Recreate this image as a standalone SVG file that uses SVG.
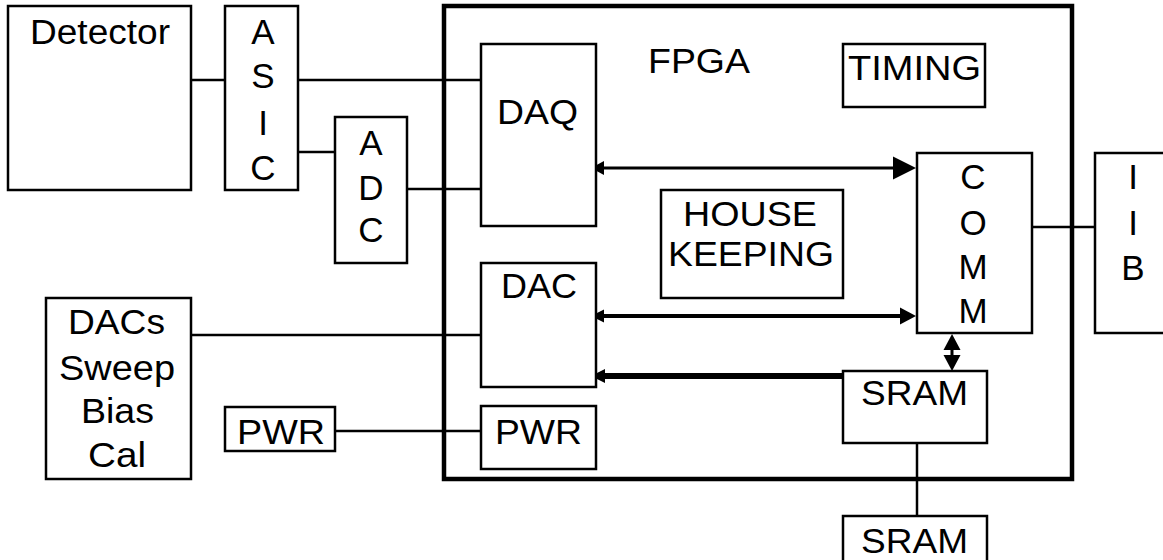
<svg xmlns="http://www.w3.org/2000/svg" width="1163" height="560" viewBox="0 0 1163 560">
<style>
.box{fill:#fff;stroke:#000;stroke-width:2.5}
.frame{fill:none;stroke:#000;stroke-width:4.5}
.ln{stroke:#000;stroke-width:2.5;fill:none}
.head{fill:#000;stroke:none}
text{font-family:"Liberation Sans",Arial,sans-serif;font-size:35px;fill:#000}
.c{text-anchor:middle}
</style>
<rect width="1163" height="560" fill="#fff"/>
<g id="connectors">
<line class="ln" x1="191" y1="80" x2="225" y2="80"/>
<line class="ln" x1="298" y1="80" x2="481" y2="80"/>
<line class="ln" x1="298" y1="152" x2="335" y2="152"/>
<line class="ln" x1="407" y1="189" x2="481" y2="189"/>
<line class="ln" x1="191" y1="335" x2="481" y2="335"/>
<line class="ln" x1="335" y1="431" x2="481" y2="431"/>
<line class="ln" x1="1027" y1="227" x2="1095" y2="227"/>
<line class="ln" x1="917" y1="443" x2="917" y2="516"/>
<!-- DAQ <-> COMM -->
<line x1="600" y1="168" x2="896" y2="168" stroke="#000" stroke-width="3"/>
<polygon class="head" points="591,168 604,161 604,175"/>
<polygon class="head" points="916,168 893,156.5 893,179.5"/>
<!-- DAC <-> COMM -->
<line x1="600" y1="316" x2="902" y2="316" stroke="#000" stroke-width="4"/>
<polygon class="head" points="591,316 604,309.5 604,322.5"/>
<polygon class="head" points="916,316 900,307.5 900,324.5"/>
<!-- SRAM -> DAC -->
<line x1="600" y1="376" x2="843" y2="376" stroke="#000" stroke-width="6"/>
<polygon class="head" points="591,376 605,369 605,383"/>
<!-- COMM <-> SRAM -->
<line x1="952" y1="346" x2="952" y2="359" stroke="#000" stroke-width="3"/>
<polygon class="head" points="952,334 943.5,350 960.5,350"/>
<polygon class="head" points="952,371 943.5,355 960.5,355"/>
</g>
<g id="fpga">
<rect class="frame" x="444" y="6" width="628" height="473"/>
<text x="648" y="73" textLength="102" lengthAdjust="spacingAndGlyphs">FPGA</text>
</g>
<g id="detector">
<rect class="box" x="8" y="6" width="183" height="184"/>
<text x="30" y="44" textLength="140" lengthAdjust="spacingAndGlyphs">Detector</text>
</g>
<g id="asic">
<rect class="box" x="225" y="6" width="73" height="184"/>
<text class="c" x="263" y="44">A</text>
<text class="c" x="263" y="88">S</text>
<text class="c" x="263" y="135">I</text>
<text class="c" x="263" y="180">C</text>
</g>
<g id="adc">
<rect class="box" x="335" y="117" width="72" height="146"/>
<text class="c" x="371" y="155">A</text>
<text class="c" x="371" y="200">D</text>
<text class="c" x="371" y="242">C</text>
</g>
<g id="daq">
<rect class="box" x="481" y="44" width="115" height="182"/>
<text x="497" y="124" textLength="81" lengthAdjust="spacingAndGlyphs">DAQ</text>
</g>
<g id="timing">
<rect class="box" x="843" y="44" width="142" height="63"/>
<text x="848" y="80" textLength="133" lengthAdjust="spacingAndGlyphs">TIMING</text>
</g>
<g id="housekeeping">
<rect class="box" x="661" y="190" width="182" height="108"/>
<text x="683" y="226" textLength="134" lengthAdjust="spacingAndGlyphs">HOUSE</text>
<text x="668" y="266" textLength="166" lengthAdjust="spacingAndGlyphs">KEEPING</text>
</g>
<g id="comm">
<rect class="box" x="917" y="153" width="115" height="180"/>
<text class="c" x="973" y="189">C</text>
<text class="c" x="973" y="235">O</text>
<text class="c" x="973" y="279">M</text>
<text class="c" x="973" y="323">M</text>
</g>
<g id="iib">
<rect class="box" x="1095" y="153" width="80" height="180"/>
<text class="c" x="1133" y="189">I</text>
<text class="c" x="1133" y="235">I</text>
<text class="c" x="1133" y="280">B</text>
</g>
<g id="dac">
<rect class="box" x="481" y="263" width="115" height="124"/>
<text x="501" y="298" textLength="76" lengthAdjust="spacingAndGlyphs">DAC</text>
</g>
<g id="pwr-inner">
<rect class="box" x="481" y="406" width="115" height="63"/>
<text x="495" y="444" textLength="87" lengthAdjust="spacingAndGlyphs">PWR</text>
</g>
<g id="sram-inner">
<rect class="box" x="843" y="371" width="144" height="72"/>
<text x="861" y="405" textLength="107" lengthAdjust="spacingAndGlyphs">SRAM</text>
</g>
<g id="sram-ext">
<rect class="box" x="843" y="516" width="144" height="60"/>
<text x="861" y="553" textLength="107" lengthAdjust="spacingAndGlyphs">SRAM</text>
</g>
<g id="dacs">
<rect class="box" x="46" y="298" width="145" height="181"/>
<text x="68" y="334" textLength="97" lengthAdjust="spacingAndGlyphs">DACs</text>
<text x="59" y="380" textLength="116" lengthAdjust="spacingAndGlyphs">Sweep</text>
<text x="81" y="423" textLength="73" lengthAdjust="spacingAndGlyphs">Bias</text>
<text x="88" y="467" textLength="58" lengthAdjust="spacingAndGlyphs">Cal</text>
</g>
<g id="pwr-ext">
<rect class="box" x="225" y="407" width="110" height="44"/>
<text x="237" y="444" textLength="88" lengthAdjust="spacingAndGlyphs">PWR</text>
</g>
</svg>
